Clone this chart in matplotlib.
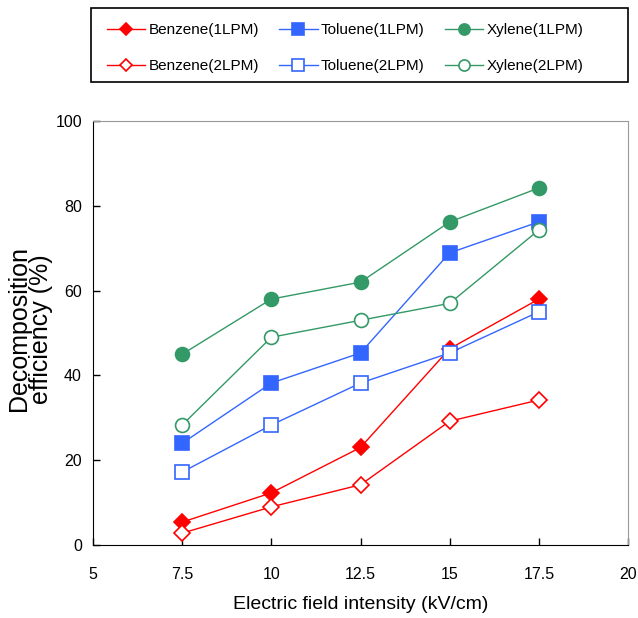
import matplotlib
matplotlib.use("Agg")
import matplotlib.pyplot as plt
from matplotlib.patches import Rectangle

plt.rcParams['font.family'] = ['Liberation Sans', 'DejaVu Sans']

x = [7.5, 10, 12.5, 15, 17.5]
benzene_1 = [5.4, 12.3, 23, 46.3, 58]
benzene_2 = [2.8, 9, 14.2, 29.2, 34.2]
toluene_1 = [24, 38.2, 45.3, 68.9, 76.2]
toluene_2 = [17.2, 28.3, 38.2, 45.3, 55]
xylene_1 = [45, 58, 62, 76.2, 84.2]
xylene_2 = [28.3, 49, 53, 57, 74.3]

labels = ['Benzene(1LPM)', 'Benzene(2LPM)', 'Toluene(1LPM)', 'Toluene(2LPM)',
          'Xylene(1LPM)', 'Xylene(2LPM)']
red, blue, green = '#ff0000', '#3366ff', '#339966'

fig = plt.figure(figsize=(6.38, 6.18), dpi=100)
ax = fig.add_axes([0.1458, 0.1181, 0.8385, 0.6861])

styles = [
    (benzene_1, red, 'D', red, 8),
    (benzene_2, red, 'D', 'white', 8),
    (toluene_1, blue, 's', blue, 10),
    (toluene_2, blue, 's', 'white', 10),
    (xylene_1, green, 'o', green, 10),
    (xylene_2, green, 'o', 'white', 10),
]
handles = []
for (y, c, m, fc, ms), lab in zip(styles, labels):
    h, = ax.plot(x, y, color=c, lw=1, marker=m, ms=ms, mfc=fc, mec=c, mew=1.2,
                 label=lab)
    handles.append(h)

ax.set_xlim(5, 20)
ax.set_ylim(0, 100)
ax.set_xticks([5, 7.5, 10, 12.5, 15, 17.5, 20])
ax.set_xticklabels(['5', '7.5', '10', '12.5', '15', '17.5', '20'])
ax.set_yticks([0, 20, 40, 60, 80, 100])
ax.tick_params(direction='in', length=5, labelsize=11.5, width=1)
ax.tick_params(axis='x', pad=16)
ax.tick_params(axis='y', pad=8)
ax.spines['top'].set_color('#999999')
ax.spines['right'].set_color('#999999')
ax.set_xlabel('Electric field intensity (kV/cm)', fontsize=14, labelpad=10)
ax.set_ylabel('Decomposition\nefficiency (%)', fontsize=18, linespacing=0.88)
ax.yaxis.set_label_coords(-0.075, 0.51)

fig.patches.append(Rectangle((0.1426, 0.8673), 0.8417, 0.1197,
                             transform=fig.transFigure, fill=False,
                             edgecolor='black', linewidth=1.2))
leg = fig.legend(handles=handles, labels=labels, ncol=3,
                 bbox_to_anchor=(107 / 638, 0.963), loc='upper left',
                 fontsize=11, frameon=False, handlelength=2.5, borderpad=0,
                 labelspacing=1.45, handletextpad=0.2, borderaxespad=0,
                 columnspacing=1.35, markerscale=0.8)

fig.savefig('out.png', dpi=100)
